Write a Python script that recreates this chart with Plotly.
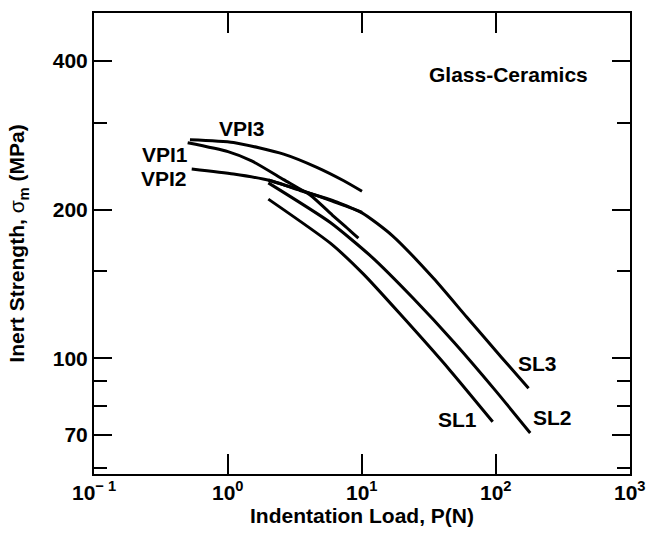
import math
import plotly.graph_objects as go

# ---- data ----
vpi1_x = [0.50, 1.0, 1.5, 2.6, 4.1, 6.0, 7.5, 9.4]
vpi1_y = [273, 262, 251, 230, 214, 195, 185, 175]

vpi2_x = [0.536, 1.1, 2.05, 3.45, 6.1, 10.0]
vpi2_y = [241.6, 236, 229, 218.6, 208.6, 197.5]

vpi3_x = [0.52, 1.1, 2.6, 4.6, 7.25, 10.0]
vpi3_y = [277, 273.5, 259, 243.5, 229, 217.8]

sl1_x = [2.0, 5.8, 10.26, 19.2, 45.4, 94.5]
sl1_y = [210, 171, 148, 123, 94.5, 74.4]

sl2_x = [2.0, 5.8, 11.8, 24.0, 48.9, 99.5, 180]
sl2_y = [226.5, 188.3, 160.4, 132.4, 107.5, 85.9, 70.6]

sl3_x = [2.0, 3.5, 6.0, 10.0, 16.9, 34.3, 60.4, 110, 175]
sl3_y = [229.5, 219, 208, 197, 177, 145, 121.2, 100.4, 87.0]

series = [
    ("VPI1", vpi1_x, vpi1_y),
    ("VPI2", vpi2_x, vpi2_y),
    ("VPI3", vpi3_x, vpi3_y),
    ("SL1", sl1_x, sl1_y),
    ("SL2", sl2_x, sl2_y),
    ("SL3", sl3_x, sl3_y),
]

label_text = ["VPI3", "VPI1", "VPI2", "SL3", "SL2", "SL1", "Glass-Ceramics"]
label_x = [1.265, 0.339, 0.332, 205.6, 261.8, 52.0, 123.0]
label_y = [292.2, 258.0, 231.0, 97.7, 75.7, 75.3, 375.0]

x_tickvals = [0.1, 1, 10, 100, 1000]
x_ticktext = ["10<sup>\u2212 1</sup>", "10<sup>0</sup>", "10<sup>1</sup>", "10<sup>2</sup>", "10<sup>3</sup>"]
x_inner_ticks = [1, 10, 100]
y_major_ticks = [70, 100, 200, 400]
y_minor_ticks = [60, 80, 90, 150, 300]

FONT = "Liberation Sans"

fig = go.Figure()
for name, xs, ys in series:
    fig.add_trace(go.Scatter(
        x=xs, y=ys, mode="lines", name=name,
        line=dict(color="black", width=3, shape="spline", smoothing=0.6),
        showlegend=False, hoverinfo="skip",
    ))

for t, xv, yv in zip(label_text, label_x, label_y):
    fig.add_annotation(x=math.log10(xv), y=math.log10(yv), xref="x", yref="y", text=t,
                       showarrow=False, xanchor="center", yanchor="middle",
                       font=dict(family=FONT, size=21, color="black", weight="bold"))

fig.update_layout(
    width=649, height=541,
    margin=dict(l=94, r=19, t=11, b=67),
    paper_bgcolor="white", plot_bgcolor="white",
    font=dict(family=FONT, size=20, color="black", weight="bold"),
    showlegend=False,
)

fig.update_xaxes(
    type="log", range=[-1, 3],
    showgrid=False, zeroline=False,
    showline=True, linecolor="black", linewidth=2, mirror="allticks",
    tickmode="array", tickvals=x_inner_ticks, showticklabels=False,
    ticks="inside", ticklen=20, tickwidth=2, tickcolor="black",
    title=dict(text="Indentation Load, P(N)", standoff=33,
               font=dict(family=FONT, size=21, color="black", weight="bold")),
)

fig.update_yaxes(
    type="log", range=[1.7657, 2.699],
    showgrid=False, zeroline=False,
    showline=True, linecolor="black", linewidth=2, mirror="allticks",
    tickmode="array", tickvals=y_major_ticks, ticktext=[str(v) for v in y_major_ticks],
    ticks="inside", ticklen=18, tickwidth=2, tickcolor="black",
    tickfont=dict(family=FONT, size=21, color="black", weight="bold"),
    minor=dict(tickmode="array", tickvals=y_minor_ticks, ticks="inside",
               ticklen=13, tickwidth=2, tickcolor="black", showgrid=False),
    title=dict(text="Inert Strength, <span style='font-weight:normal'>\u03c3</span><sub>m</sub> (MPa)",
               standoff=22,
               font=dict(family=FONT, size=21, color="black", weight="bold")),
)

# x tick labels (decade labels, including the frame corners)
for v, t in zip(x_tickvals, x_ticktext):
    fig.add_annotation(x=math.log10(v), y=0, xref="x", yref="paper", text=t, showarrow=False,
                       xanchor="center", yanchor="top", yshift=-2,
                       font=dict(family=FONT, size=21, color="black", weight="bold"))

fig.write_html("out.html")
